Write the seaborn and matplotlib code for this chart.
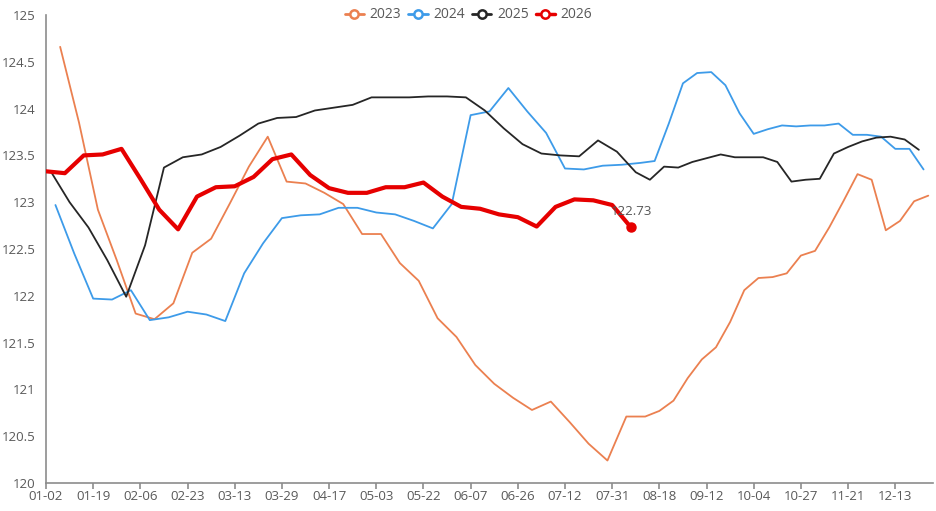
import numpy as np
import pandas as pd
import matplotlib
matplotlib.use("Agg")
import matplotlib.pyplot as plt
from matplotlib.lines import Line2D
from matplotlib.ticker import MultipleLocator, FuncFormatter
import seaborn as sns

# ---- data (weekly, Fridays) ----
start_dates = {"2023": "2023-01-06", "2024": "2024-01-05", "2025": "2025-01-03", "2026": "2026-01-02"}

v2023 = [124.66, 123.85, 122.92, 122.38, 121.81, 121.75, 121.92, 122.46, 122.61, 122.99,
         123.38, 123.70, 123.22, 123.20, 123.10, 122.98, 122.66, 122.66, 122.35, 122.16,
         121.76, 121.56, 121.26, 121.06, 120.91, 120.78, 120.87, 120.65, 120.42, 120.24,
         120.71, 120.71, 120.77, 120.88, 121.12, 121.32, 121.45, 121.72, 122.06, 122.19,
         122.20, 122.24, 122.43, 122.48, 122.73, 123.01, 123.30, 123.24, 122.70, 122.80,
         123.01, 123.07]
v2024 = [122.97, 122.45, 121.97, 121.96, 122.06, 121.74, 121.77, 121.83, 121.80, 121.73,
         122.24, 122.56, 122.83, 122.86, 122.87, 122.94, 122.94, 122.89, 122.87, 122.80,
         122.72, 122.98, 123.93, 123.97, 124.22, 123.97, 123.74, 123.36, 123.35, 123.39,
         123.40, 123.42, 123.44, 123.84, 124.27, 124.38, 124.39, 124.25, 123.95, 123.73,
         123.78, 123.82, 123.81, 123.82, 123.82, 123.84, 123.72, 123.72, 123.70, 123.57,
         123.57, 123.35]
v2025 = [123.33, 123.00, 122.73, 122.38, 121.99, 122.54, 123.37, 123.48, 123.51, 123.59,
         123.71, 123.84, 123.90, 123.91, 123.98, 124.01, 124.04, 124.12, 124.12, 124.12,
         124.13, 124.13, 124.12, 123.98, 123.79, 123.62, 123.52, 123.50, 123.49, 123.66,
         123.54, 123.32, 123.24, 123.38, 123.37, 123.43, 123.47, 123.51, 123.48, 123.48,
         123.48, 123.43, 123.22, 123.24, 123.25, 123.52, 123.59, 123.65, 123.69, 123.70,
         123.67, 123.56]
v2026 = [123.33, 123.31, 123.50, 123.51, 123.57, 123.25, 122.92, 122.71, 123.06, 123.16,
         123.17, 123.27, 123.46, 123.51, 123.29, 123.15, 123.10, 123.10, 123.16, 123.16,
         123.21, 123.06, 122.95, 122.93, 122.87, 122.84, 122.74, 122.95, 123.03, 123.02,
         122.97, 122.73]

values = {"2023": v2023, "2024": v2024, "2025": v2025, "2026": v2026}
colors = {"2023": "#EB8050", "2024": "#3D9BE9", "2025": "#262626", "2026": "#E60000"}
widths = {"2023": 1.3, "2024": 1.3, "2025": 1.3, "2026": 3.0}

# ---- build category axis (union of MM-DD dates) ----
rows = []
for yr, vals in values.items():
    dates = pd.date_range(start_dates[yr], periods=len(vals), freq="7D")
    for d, v in zip(dates, vals):
        rows.append({"year": yr, "md": d.strftime("%m-%d"), "value": v})
df = pd.DataFrame(rows)
cats = sorted(df["md"].unique())
pos = {c: i for i, c in enumerate(cats)}
df["x"] = df["md"].map(pos)

# ---- plot ----
sns.set_theme(style="white")
plt.rcParams["font.family"] = ["Open Sans", "DejaVu Sans"]

fig = plt.figure(figsize=(9.37, 5.11), dpi=100)
ax = fig.add_axes([46 / 937, 28 / 511, (933 - 46) / 937, (483 - 15) / 511])

for yr in ["2023", "2024", "2025", "2026"]:
    sub = df[df["year"] == yr]
    sns.lineplot(data=sub, x="x", y="value", ax=ax, color=colors[yr],
                 linewidth=widths[yr], sort=True, legend=False, zorder=3)

last = df[df["year"] == "2026"].iloc[-1]
ax.plot([last["x"]], [last["value"]], marker="o", markersize=6.5,
        color=colors["2026"], zorder=5)
ax.annotate(f"{last['value']:.2f}", (last["x"], last["value"]),
            xytext=(0, 7), textcoords="offset points", ha="center", va="bottom",
            fontsize=9.5, color="#555555", zorder=6)

ax.set_xlim(0, 188)
ax.set_ylim(120, 125)
ax.yaxis.set_major_locator(MultipleLocator(0.5))
ax.yaxis.set_major_formatter(FuncFormatter(lambda v, p: f"{v:g}"))
tick_idx = list(range(0, len(cats), 10))
ax.set_xticks(tick_idx)
ax.set_xticklabels([cats[i] for i in tick_idx])
ax.set_xlabel("")
ax.set_ylabel("")

for s in ["top", "right"]:
    ax.spines[s].set_visible(False)
for s in ["left", "bottom"]:
    ax.spines[s].set_color("#8c8c8c")
    ax.spines[s].set_linewidth(1.2)
ax.tick_params(axis="x", which="major", bottom=True, length=4, width=1.2,
               color="#8c8c8c", labelsize=9.5, labelcolor="#595959", pad=1)
ax.tick_params(axis="y", which="major", left=False, length=0, labelsize=9.5,
               labelcolor="#595959", pad=7.5)
ax.grid(False)

handles = [Line2D([0], [0], color=colors[y], linewidth=2 if y != "2026" else 2.5,
                  marker="o", markersize=6, markerfacecolor="white",
                  markeredgecolor=colors[y], markeredgewidth=1.8)
           for y in ["2023", "2024", "2025", "2026"]]
fig.legend(handles, ["2023", "2024", "2025", "2026"], loc="upper center",
           bbox_to_anchor=(0.5, 1.01), ncol=4, frameon=False, fontsize=10,
           handlelength=1.4, handletextpad=0.4, columnspacing=0.5,
           labelcolor="#595959")

fig.savefig("out.png", dpi=100)
